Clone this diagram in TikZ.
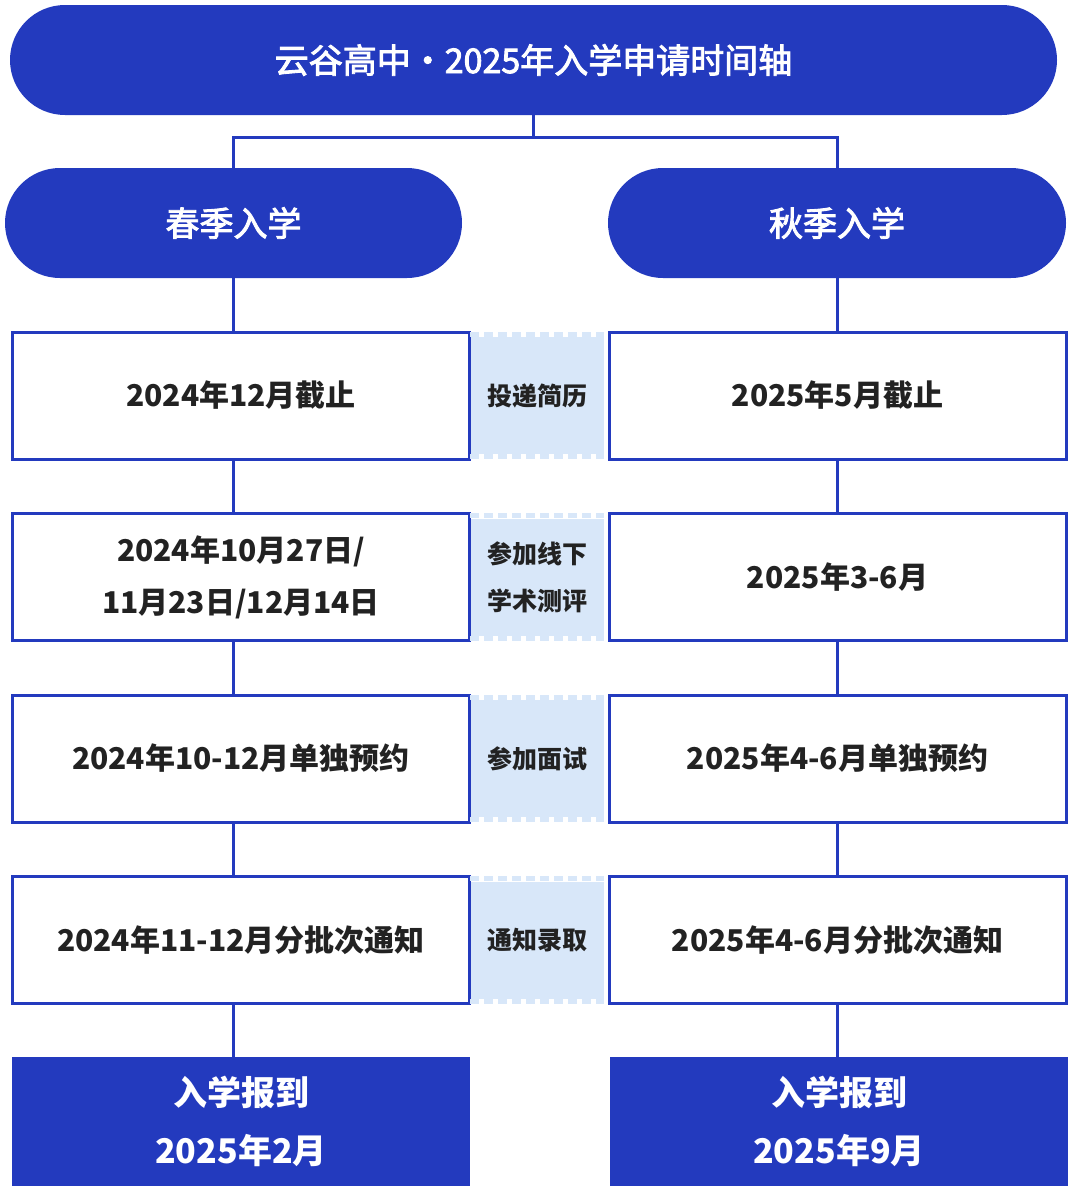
\documentclass[tikz,border=0pt]{standalone}
\usepackage{fontspec}
\newfontfamily\cjk{Noto Sans CJK SC}
\newfontfamily\cjkmid{Noto Sans CJK SC}[FakeBold=2.6]
\usetikzlibrary{positioning}

\definecolor{deepblue}{RGB}{35,58,190}
\definecolor{paleblue}{RGB}{216,231,249}
\definecolor{inkgray}{RGB}{34,34,34}

\tikzset{
    pill/.style={fill=deepblue, text=white, rounded corners=27.5pt, minimum height=55pt,
        inner sep=0pt, font=\cjkmid\fontsize{17}{20}\selectfont},
    datebox/.style={draw=deepblue, line width=1.5pt, fill=white, minimum width=228.5pt,
        minimum height=63.5pt, align=center, text=inkgray, inner sep=0pt,
        font=\cjk\bfseries\fontsize{15}{26}\selectfont},
    endbox/.style={fill=deepblue, text=white, minimum width=229pt, minimum height=64.5pt,
        align=center, inner sep=0pt, font=\cjk\bfseries\fontsize{17}{29}\selectfont},
    stagebox/.style={fill=paleblue, minimum width=66.5pt, minimum height=58.5pt,
        align=center, text=inkgray, inner sep=0pt,
        font=\cjk\bfseries\fontsize{12.5}{23.5}\selectfont},
    perf/.style={draw=paleblue, line width=2.5pt, dash pattern=on 4.5pt off 2.5pt},
    link/.style={draw=deepblue, line width=1.5pt}
}

\begin{document}
\begin{tikzpicture}[x=0.5pt, y=-0.5pt]
    \useasboundingbox (0,0) rectangle (1080,1194);

    % Kopf
    \node[pill, minimum width=523.5pt] (title) at (533.5,60) {云谷高中·2025年入学申请时间轴};
    \node[pill, minimum width=228.5pt] (spring) at (233.5,223) {春季入学};
    \node[pill, minimum width=229pt] (autumn) at (837,223) {秋季入学};

    \draw[link] (title.south) -- ++(0,22) coordinate (split);
    \draw[link] (split) -| (spring.north);
    \draw[link] (split) -| (autumn.north);

    % Zeilen
    \foreach \i/\y/\spring/\autumn/\stage in {
        1/395.5/{2024年12月截止}/{2025年5月截止}/{投递简历},
        2/577/{2024年10月27日/\\11月23日/12月14日}/{2025年3-6月}/{参加线下\\学术测评},
        3/758.5/{2024年10-12月单独预约}/{2025年4-6月单独预约}/{参加面试},
        4/940/{2024年11-12月分批次通知}/{2025年4-6月分批次通知}/{通知录取}}
    {
        \node[datebox] (s\i) at (241,\y) {\spring};
        \node[datebox] (a\i) at (837.5,\y) {\autumn};
        \node[stagebox] (m\i) at (537,\y) {\stage};
        \draw[perf] ([yshift=1.25pt]m\i.north west) -- ([yshift=1.25pt]m\i.north east);
        \draw[perf] ([yshift=-1.25pt]m\i.south west) -- ([yshift=-1.25pt]m\i.south east);
    }

    \node[endbox] (s5) at (241,1121.5) {入学报到\\2025年2月};
    \node[endbox] (a5) at (839,1121.5) {入学报到\\2025年9月};

    % Verbindungen
    \draw[link] (spring.south) -- (spring.south |- s1.north);
    \draw[link] (autumn.south) -- (autumn.south |- a1.north);
    \foreach \i [evaluate=\i as \j using int(\i+1)] in {1,...,4}
    {
        \draw[link] (s\i.south -| spring.south) -- (s\j.north -| spring.south);
        \draw[link] (a\i.south -| autumn.south) -- (a\j.north -| autumn.south);
    }
\end{tikzpicture}
\end{document}
